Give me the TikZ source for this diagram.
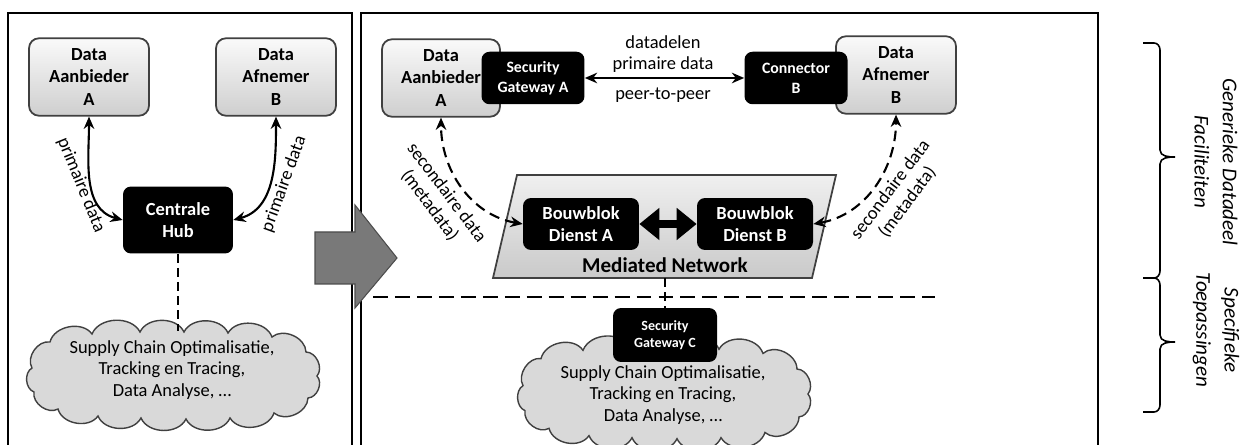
\documentclass[tikz,border=0pt]{standalone}
\usepackage{fontspec}
\setmainfont{Carlito}
\usetikzlibrary{shapes,arrows.meta,positioning,calc}

\begin{document}
\begin{tikzpicture}[
    x=0.02cm, y=-0.02cm,
    graybox/.style={
        rectangle,
        draw=black!75,
        line width=1pt,
        top color=gray!4,
        bottom color=gray!38,
        rounded corners=0.2cm,
        align=center,
        minimum width=2.4cm,
        minimum height=1.55cm,
        font=\bfseries\fontsize{10.5}{12.8}\selectfont
    },
    blackbox/.style={
        rectangle,
        fill=black,
        text=white,
        rounded corners=0.16cm,
        align=center,
        font=\bfseries\fontsize{10.5}{12.8}\selectfont
    },
    gwbox/.style={
        blackbox,
        minimum width=2.06cm,
        minimum height=1.05cm,
        font=\bfseries\fontsize{9}{11.3}\selectfont
    },
    wolkrand/.pic={
        \path [draw=black!75, line width=0.8pt, fill=gray!30]
            (-140,-8) to[bend left=65] (-122,-34) to[bend left=65] (-80,-42)
            to[bend left=65] (-32,-44) to[bend left=65] (12,-44) to[bend left=65] (56,-43)
            to[bend left=65] (100,-39) to[bend left=65] (134,-24) to[bend left=65] (145,0)
            to[bend left=65] (136,22) to[bend left=65] (102,37) to[bend left=65] (58,42)
            to[bend left=65] (14,43) to[bend left=65] (-31,42) to[bend left=65] (-74,40)
            to[bend left=65] (-114,33) to[bend left=65] (-138,16) to[bend left=65] (-140,-8) -- cycle;
    },
    wolktekst/.style={
        align=center,
        font=\fontsize{10.5}{12.3}\selectfont
    },
    tekst/.style={
        align=center,
        font=\fontsize{10.5}{12}\selectfont
    },
    line/.style={
        draw,
        line width=1.2pt,
        {Stealth[length=7pt,width=6pt]}-{Stealth[length=7pt,width=6pt]}
    },
    dline/.style={
        line,
        dash pattern=on 6pt off 3.5pt
    },
    sepline/.style={
        draw,
        line width=1.3pt,
        dash pattern=on 8.5pt off 4pt
    },
    frame/.style={
        draw,
        line width=1.1pt
    },
    accolade/.style={
        draw,
        line width=0.9pt
    }
]
\useasboundingbox (0,0) rectangle (1243,445);

% Panels
\path [frame] (8,447) -- (8,13) -- (352,13) -- (352,447);
\path [frame] (361,447) -- (361,13) -- (1098,13) -- (1098,447);
\draw [fill=gray!95!black, draw=black!70, line width=0.6pt]
    (315,232) -- (355,232) -- (355,205) -- (397,258) -- (355,308) -- (355,284) -- (315,284) -- cycle;

% Left: central hub
\node [graybox] (aanL) at (89,77) {Data\\Aanbieder\\A};
\node [graybox] (afnL) at (276,77) {Data\\Afnemer\\B};
\node [blackbox, minimum width=2.2cm, minimum height=1.34cm] (hub) at (178,220) {Centrale\\Hub};
\pic at (172,376) {wolkrand};
\node [wolktekst] (cloudL) at (172,370) {Supply Chain Optimalisatie,\\Tracking en Tracing,\\Data Analyse, …};
\coordinate (cloudLtop) at (178,331);

\path [line] (hub.west) to[out=165, in=-90] (aanL.south);
\path [line] (hub.east) to[out=15, in=-90] (afnL.south);
\path [draw, line width=1.2pt, dash pattern=on 5pt off 3pt] (hub.south) -- (cloudLtop);
\node [tekst, rotate=-68] (primL) at (81,185) {primaire data};
\node [tekst, rotate=70] (primR) at (284,184) {primaire data};

% Right: mediated network
\draw [draw=black!75, line width=1pt, top color=gray!12, bottom color=gray!42]
    (517,175) -- (836,175) -- (812,278) -- (493,278) -- cycle;
\coordinate (medbot) at (665,278);
\node [font=\bfseries\fontsize{12}{14}\selectfont] (medlbl) at (665,265) {Mediated Network};

\node [graybox, minimum width=2.36cm] (aanR) at (441,78) {Data\\Aanbieder\\A};
\node [graybox] (afnR) at (896,75) {Data\\Afnemer\\B};
\node [gwbox] (sgA) at (533,78) {Security\\Gateway A};
\node [gwbox] (conB) at (796,78) {Connector\\B};
\node [blackbox, minimum width=2.32cm, minimum height=1.04cm] (bbA) at (581,224) {Bouwblok\\Dienst A};
\node [blackbox, minimum width=2.32cm, minimum height=1.04cm] (bbB) at (755,224) {Bouwblok\\Dienst B};

\path [line] (sgA.east) -- (conB.west);
\node [tekst] (deel) at (663,54) {datadelen\\primaire data};
\node [tekst] (p2p) at (663,95) {peer-to-peer};

\path [draw, line width=4.5pt, {Triangle[length=0.4cm,width=0.62cm]}-{Triangle[length=0.4cm,width=0.62cm]}] (bbA.east) -- (bbB.west);
\path [dline] (bbA.west) to[out=170, in=-90] (aanR.south);
\path [dline] (bbB.east) to[out=10, in=-90] (afnR.south);
\node [tekst, rotate=-53] (secL) at (438,199) {secondaire data\\(metadata)};
\node [tekst, rotate=53] (secR) at (899,196) {secondaire data\\(metadata)};

% Separator and applications
\coordinate (sepL) at (373,297);
\coordinate (sepR) at (935,297);
\path [sepline] (sepL) -- (sepR);
\pic [yscale=1.04] at (663,394) {wolkrand};
\node [wolktekst] (cloudR) at (663,395) {Supply Chain Optimalisatie,\\Tracking en Tracing,\\Data Analyse, …};
\node [blackbox, minimum width=2.08cm, minimum height=1.08cm, font=\bfseries\fontsize{8}{9.8}\selectfont] (sgC) at (665,335) {Security\\Gateway C};
\path [draw, line width=1.2pt, dash pattern=on 5pt off 3pt] (medbot) -- (sgC.north);

% Braces
\path [accolade] (1143,43) -- (1154,43) to[out=0,in=90] (1160,50) -- (1160,150)
    to[out=-90,in=180] (1175,157) to[out=180,in=90] (1160,164) -- (1160,271)
    to[out=-90,in=0] (1154,278) -- (1143,278);
\path [accolade] (1143,278) -- (1154,278) to[out=0,in=90] (1160,285) -- (1160,335)
    to[out=-90,in=180] (1175,342) to[out=180,in=90] (1160,349) -- (1160,405)
    to[out=-90,in=0] (1154,412) -- (1143,412);
\node [rotate=-90, align=center, font=\itshape\fontsize{12}{16}\selectfont] (gen) at (1216,162) {Generieke Datadeel\\Faciliteiten};
\node [rotate=-90, align=center, font=\itshape\fontsize{12}{16}\selectfont] (spec) at (1216,330) {Specifieke\\Toepassingen};

\end{tikzpicture}
\end{document}
